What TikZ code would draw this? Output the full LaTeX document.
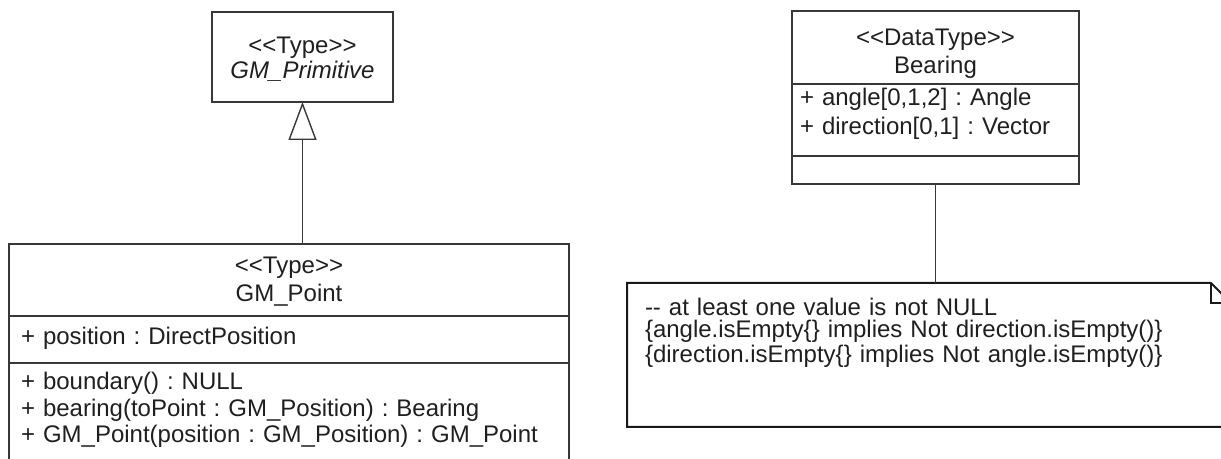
\documentclass[tikz,border=0pt]{standalone}
\usepackage{fontspec}
\newfontfamily\umlfont{Liberation Sans}
\usetikzlibrary{positioning, arrows.meta}

\definecolor{umlline}{gray}{0.22}
\definecolor{umltext}{gray}{0.12}

\tikzset{
  part/.style={draw=umlline, line width=0.7pt, rectangle, outer sep=0pt,
    inner ysep=0pt, text=umltext, lead=14pt},
  lead/.style={font=\umlfont\fontsize{12}{#1}\selectfont\frenchspacing},
  inherit/.style={draw=umlline, line width=0.7pt,
    -{Triangle[open, length=19pt, width=14pt]}},
  link/.style={draw=umlline, line width=0.7pt},
  notebox/.style={draw=black!90, line width=1pt},
}

\begin{document}
\begin{tikzpicture}[x=0.5pt, y=-0.5pt]
  \useasboundingbox (0,0) rectangle (1221,459);
  \clip (0,0) rectangle (1221,459);

  % Supertipo
  \node[part, lead=12.5pt, anchor=north west, inner xsep=0pt, text width=90.5pt,
    align=center, text height=21pt, text depth=24pt] (prim) at (212,12)
    {<{}<Type>{}>\\ \itshape GM\_Primitive};

  % GM_Point: cabecera, atributos y operaciones
  \node[part, lead=13.75pt, anchor=north west, inner xsep=6pt, text width=268pt,
    align=center, text height=15pt, text depth=21pt] (pthead) at (9,244)
    {<{}<Type>{}>\\ GM\_Point};
  \node[part, below=0pt of pthead, inner xsep=6pt, text width=268pt, align=left,
    text height=14.5pt, text depth=9pt] (ptattr)
    {+ position : DirectPosition};
  \node[part, lead=13.25pt, below=0pt of ptattr, inner xsep=6pt, text width=268pt,
    align=left, text height=13.5pt, text depth=45pt] (ptops)
    {+ boundary() : NULL\\
     + bearing(toPoint : GM\_Position) : Bearing\\
     + GM\_Point(position : GM\_Position) : GM\_Point};

  % Bearing
  \node[part, lead=14.25pt, anchor=north west, inner xsep=4pt, text width=135.5pt,
    align=center, text height=17.25pt, text depth=19.25pt] (bhead) at (792,11)
    {<{}<DataType>{}>\\ Bearing};
  \node[part, lead=14.2pt, below=0pt of bhead, inner xsep=4pt, text width=135.5pt,
    align=left, text height=10.85pt, text depth=25.15pt] (battr)
    {+ angle[0,1,2] : Angle\\ + direction[0,1] : Vector};
  \node[part, below=0pt of battr, inner xsep=4pt, text width=135.5pt,
    text height=0pt, text depth=14pt] (bops) {};

  % Nota con la restriccion
  \node[part, draw=none, lead=11pt, anchor=north west, inner xsep=9pt,
    text width=284pt, align=left, text height=16.5pt, text depth=55.5pt] (note)
    at (627,283)
    {-{}- at least one value is not NULL\\
     \{angle.isEmpty\{\} implies Not direction.isEmpty()\}\\
     \{direction.isEmpty\{\} implies Not angle.isEmpty()\}};
  \draw[notebox] (note.north west) -- ([xshift=-10pt]note.north east)
    -- ([yshift=-10pt]note.north east) -- (note.south east)
    -- (note.south west) -- cycle;
  \draw[notebox] ([xshift=-10pt]note.north east) |- ([yshift=-10pt]note.north east);

  % Conexiones
  \draw[inherit] (pthead.north -| prim.south) -- (prim.south);
  \draw[link] (bops.south) -- (bops.south |- note.north);
\end{tikzpicture}
\end{document}
